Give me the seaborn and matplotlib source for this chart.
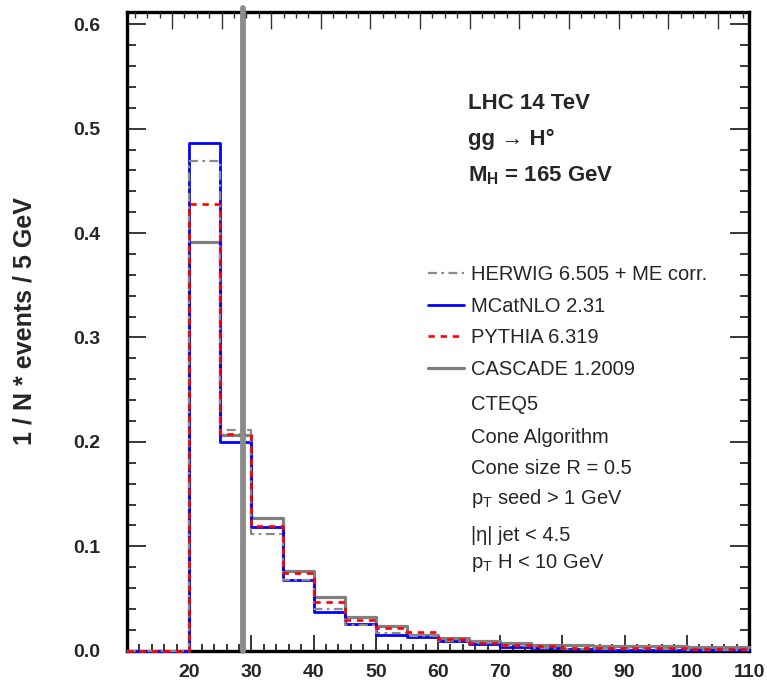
import numpy as np
import pandas as pd
import matplotlib
matplotlib.use("Agg")
import matplotlib.pyplot as plt
from matplotlib.ticker import MultipleLocator, FormatStrFormatter
import seaborn as sns

# ---------------- data ----------------
bin_edges = [10, 15, 20, 25, 30, 35, 40, 45, 50, 55, 60,
             65, 70, 75, 80, 85, 90, 95, 100, 105, 110]
herwig  = [0.0, 0.0, 0.469, 0.211, 0.112, 0.068, 0.040, 0.025, 0.017, 0.014,
           0.0095, 0.007, 0.0045, 0.003, 0.002, 0.0015, 0.0015, 0.0015, 0.001, 0.001]
mcatnlo = [0.0, 0.0, 0.486, 0.200, 0.1186, 0.0678, 0.037, 0.0256, 0.015, 0.013,
           0.009, 0.0064, 0.0035, 0.0025, 0.0015, 0.001, 0.001, 0.001, 0.0005, 0.0005]
pythia  = [0.0, 0.0, 0.428, 0.208, 0.1195, 0.0745, 0.0467, 0.0294, 0.0215, 0.018,
           0.011, 0.0074, 0.005, 0.0042, 0.003, 0.0025, 0.0025, 0.0025, 0.0012, 0.0012]
cascade = [0.0, 0.0, 0.391, 0.207, 0.127, 0.0764, 0.0515, 0.0323, 0.0237, 0.015,
           0.012, 0.0093, 0.007, 0.0055, 0.005, 0.0045, 0.0045, 0.0045, 0.004, 0.004]
series_labels = ["HERWIG 6.505 + ME corr.", "MCatNLO 2.31", "PYTHIA 6.319", "CASCADE 1.2009"]
header_lines = ["LHC 14 TeV", "gg \u2192 H\u00b0", r"$\mathbf{M_H}$ = 165 GeV"]
info_lines = ["CTEQ5", "Cone Algorithm", "Cone size R = 0.5",
              r"$\mathrm{p_T}$ seed > 1 GeV", "|\u03b7| jet < 4.5", r"$\mathrm{p_T}$ H < 10 GeV"]
x_ticks = [20, 30, 40, 50, 60, 70, 80, 90, 100, 110]
y_ticks = [0.0, 0.1, 0.2, 0.3, 0.4, 0.5, 0.6]
y_label = "1 / N * events / 5 GeV"
marker_x = 28.7

# ---------------- style ----------------
sns.set_style("ticks")
plt.rcParams["font.family"] = ["Liberation Sans", "DejaVu Sans"]
plt.rcParams["mathtext.fontset"] = "custom"
plt.rcParams["mathtext.rm"] = "Liberation Sans"
plt.rcParams["mathtext.it"] = "Liberation Sans:italic"
plt.rcParams["mathtext.bf"] = "Liberation Sans:bold"

fig = plt.figure(figsize=(7.67, 6.80), dpi=100)
ax = fig.add_axes([0.1656, 0.0431, 0.8109, 0.9397])

edges = np.array(bin_edges, dtype=float)
centers = (edges[:-1] + edges[1:]) / 2

styles = {
    "CASCADE": dict(vals=cascade, color="#7f7f7f", linewidth=2.3, linestyle="-"),
    "MCatNLO": dict(vals=mcatnlo, color="#0000ff", linewidth=2.0, linestyle="-"),
    "HERWIG": dict(vals=herwig, color="#8a8a8a", linewidth=1.6, dashes=(4, 2, 1.2, 2)),
    "PYTHIA": dict(vals=pythia, color="#ff0000", linewidth=1.9, dashes=(2.4, 2.2)),
}
lines = {}
for name in ["CASCADE", "MCatNLO", "HERWIG", "PYTHIA"]:
    st = dict(styles[name])
    vals = st.pop("vals")
    df = pd.DataFrame({"pt": centers, "w": vals})
    sns.histplot(data=df, x="pt", weights="w", bins=list(bin_edges), element="step",
                 fill=False, ax=ax, zorder=3, clip_on=False, **st)
    lines[name] = ax.lines[-1]

ax.axvline(marker_x, ymin=0, ymax=1.006, color="#8c8c8c", linewidth=4.2,
           zorder=5, clip_on=False)

ax.set_xlim(10, 110)
ax.set_ylim(0, 0.612)
ax.set_xticks(x_ticks)
ax.set_yticks(y_ticks)
ax.xaxis.set_minor_locator(MultipleLocator(2))
ax.yaxis.set_minor_locator(MultipleLocator(0.02))
ax.yaxis.set_major_formatter(FormatStrFormatter("%.1f"))
ax.set_xlabel("")
ax.set_ylabel(y_label, fontsize=18, fontweight="bold")
ax.yaxis.set_label_coords(-0.146, 0.516)

ax.tick_params(axis="y", which="both", direction="in", left=True, right=True,
               labelsize=14, pad=19, width=1.1, color="black")
ax.tick_params(axis="y", which="major", length=13.7)
ax.tick_params(axis="y", which="minor", length=6.5)
ax.tick_params(axis="x", which="both", direction="in", bottom=True, top=False,
               labelsize=14, pad=9.5, width=1.1, color="black")
ax.tick_params(axis="x", which="major", length=11.5)
ax.tick_params(axis="x", which="minor", length=5.4)
for lab in ax.get_xticklabels() + ax.get_yticklabels():
    lab.set_fontweight("bold")
for sp in ax.spines.values():
    sp.set_linewidth(2.4)
    sp.set_color("black")
    sp.set_visible(True)

# top frame ticks (independent ROOT frame)
ax2 = ax.twiny()
ax2.set_xlim(-0.907, 11.63)
ax2.xaxis.set_major_locator(MultipleLocator(1))
ax2.xaxis.set_minor_locator(MultipleLocator(0.25))
ax2.tick_params(axis="x", which="both", direction="in", top=True, bottom=False,
                labeltop=False, labelbottom=False, width=1.0, color="#333333")
ax2.tick_params(axis="x", which="major", length=12)
ax2.tick_params(axis="x", which="minor", length=4.5)
for sp in ax2.spines.values():
    sp.set_visible(False)

# legend
handles = [lines["HERWIG"], lines["MCatNLO"], lines["PYTHIA"], lines["CASCADE"]]
ax.legend(handles, series_labels, loc="upper left", bbox_to_anchor=(0.484, 0.603),
          frameon=False, fontsize=14.5, handlelength=1.8, handletextpad=0.35,
          labelspacing=0.62, borderpad=0, borderaxespad=0)

# header texts
header_y = [0.847, 0.7914, 0.734]
for txt, yy in zip(header_lines, header_y):
    ax.text(0.548, yy, txt, transform=ax.transAxes, fontsize=16,
            fontweight="bold", va="baseline", ha="left")

info_y = [0.3767, 0.3246, 0.2765, 0.2296, 0.1717, 0.129]
for txt, yy in zip(info_lines, info_y):
    ax.text(0.553, yy, txt, transform=ax.transAxes, fontsize=14.5,
            va="baseline", ha="left")

fig.savefig("out.png", dpi=100)
